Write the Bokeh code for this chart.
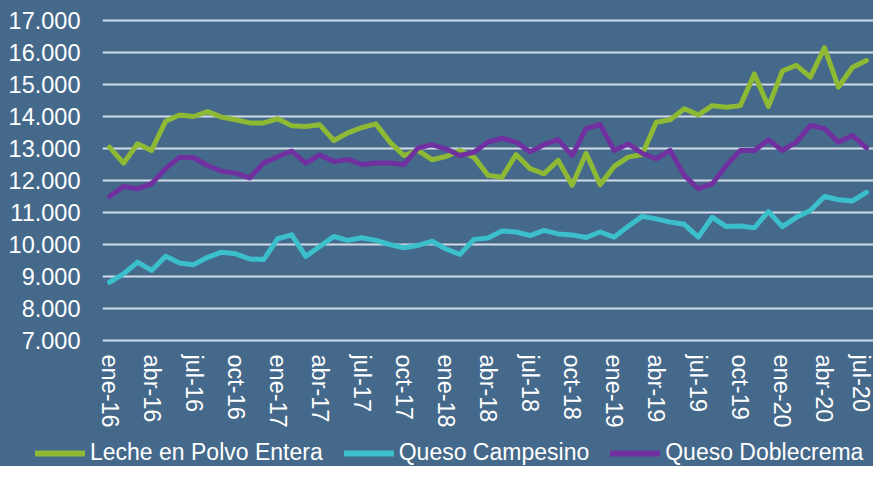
from bokeh.plotting import figure
from bokeh.models import Range1d, FixedTicker, Legend, LegendItem
from bokeh.layouts import column
from bokeh.embed import file_html
from bokeh.resources import INLINE

# ---- data ----
month_names = ["ene", "feb", "mar", "abr", "may", "jun", "jul", "ago", "sep", "oct", "nov", "dic"]
months = [f"{m}-{y}" for y in range(16, 21) for m in month_names][:55]  # ene-16 .. jul-20

leche_polvo = [13040, 12540, 13150, 12940, 13850, 14050, 14000, 14150, 13980, 13900,
               13800, 13800, 13930, 13710, 13690, 13740, 13250, 13490, 13650, 13770,
               13200, 12780, 12940, 12650, 12750, 12940, 12730, 12160, 12100, 12810,
               12370, 12210, 12630, 11850, 12850, 11870, 12440, 12730, 12810, 13820,
               13900, 14240, 14050, 14340, 14290, 14340, 15330, 14310, 15420, 15600,
               15230, 16150, 14920, 15540, 15750]

queso_campesino = [8820, 9080, 9450, 9190, 9630, 9420, 9370, 9600, 9760, 9710,
                   9550, 9530, 10180, 10300, 9630, 9940, 10250, 10130, 10210, 10130,
                   10000, 9900, 9970, 10100, 9860, 9690, 10160, 10200, 10420, 10390,
                   10280, 10440, 10330, 10300, 10220, 10390, 10230, 10570, 10880, 10800,
                   10700, 10630, 10230, 10850, 10560, 10580, 10520, 11030, 10560, 10850,
                   11060, 11500, 11400, 11360, 11630]

queso_doblecrema = [11500, 11810, 11740, 11900, 12370, 12730, 12710, 12470, 12290, 12230,
                    12080, 12550, 12740, 12920, 12540, 12800, 12590, 12660, 12500, 12550,
                    12550, 12500, 13010, 13120, 12990, 12780, 12880, 13200, 13320, 13200,
                    12900, 13120, 13280, 12780, 13620, 13750, 12940, 13150, 12850, 12680,
                    12940, 12160, 11740, 11900, 12470, 12940, 12940, 13270, 12940, 13200,
                    13720, 13620, 13200, 13410, 13020]

series_names = ["Leche en Polvo Entera", "Queso Campesino", "Queso Doblecrema"]
y_ticks = [7000, 8000, 9000, 10000, 11000, 12000, 13000, 14000, 15000, 16000, 17000]
y_tick_labels = ["7.000", "8.000", "9.000", "10.000", "11.000", "12.000",
                 "13.000", "14.000", "15.000", "16.000", "17.000"]

# ---- style ----
BG = "#45698b"
GRID = "#d3dbe7"
FONT = "Liberation Sans"
colors = ["#8db935", "#3bbfca", "#7030a0"]

x = list(range(len(months)))

p = figure(width=873, height=432, output_backend="svg", toolbar_location=None,
           x_range=Range1d(-0.5, len(months) - 0.5),
           y_range=Range1d(6937.5, 17062.5),
           min_border_left=102, min_border_right=0, min_border_top=18, min_border_bottom=90)
p.background_fill_color = BG
p.border_fill_color = BG
p.outline_line_color = None
p.frame_align = False
p.styles = {"background-color": BG}

for vals, col in zip([leche_polvo, queso_campesino, queso_doblecrema], colors):
    p.line(x, vals, line_color=col, line_width=5, line_join="round", line_cap="round")

# axes
p.yaxis.ticker = FixedTicker(ticks=y_ticks)
p.yaxis.major_label_overrides = {t: l for t, l in zip(y_ticks, y_tick_labels)}
p.yaxis.axis_line_color = None
p.yaxis.major_tick_line_color = None
p.yaxis.minor_tick_line_color = None
p.yaxis.major_tick_out = 0
p.yaxis.major_tick_in = 0
p.yaxis.minor_tick_out = 0
p.yaxis.major_label_standoff = 22
p.yaxis.major_label_text_font = FONT
p.yaxis.major_label_text_font_size = "23.5px"
p.yaxis.major_label_text_color = "white"

xt = [i for i in x if i % 3 == 0]
p.xaxis.ticker = FixedTicker(ticks=xt)
p.xaxis.major_label_overrides = {i: months[i] for i in xt}
p.xaxis.major_label_orientation = "vertical"
p.xaxis.axis_line_color = None
p.xaxis.major_tick_line_color = None
p.xaxis.minor_tick_line_color = None
p.xaxis.major_tick_out = 0
p.xaxis.major_tick_in = 0
p.xaxis.minor_tick_out = 0
p.xaxis.major_label_standoff = 12
p.xaxis.major_label_text_font = FONT
p.xaxis.major_label_text_font_size = "23.5px"
p.xaxis.major_label_text_color = "white"

p.xgrid.grid_line_color = None
p.ygrid.ticker = FixedTicker(ticks=y_ticks)
p.ygrid.grid_line_color = GRID
p.ygrid.grid_line_width = 2

# ---- legend strip (separate figure below the chart) ----
lg = figure(width=873, height=34, output_backend="svg", toolbar_location=None,
            x_axis_type=None, y_axis_type=None,
            x_range=Range1d(0, 1), y_range=Range1d(0, 1),
            min_border_left=0, min_border_right=0, min_border_top=0, min_border_bottom=0)
lg.background_fill_color = BG
lg.border_fill_color = BG
lg.outline_line_color = None
lg.grid.visible = False
lg.frame_align = False
lg.styles = {"background-color": BG}

items = []
for name, col in zip(series_names, colors):
    # placeholder renderer outside the visible range, only used for the legend swatch
    r = lg.line([5, 6], [5, 5], line_color=col, line_width=6, line_cap="round")
    items.append(LegendItem(label=name, renderers=[r]))

legend = Legend(items=items, orientation="horizontal", location=(35, 0))
legend.background_fill_alpha = 0
legend.border_line_color = None
legend.padding = 0
legend.margin = 0
legend.spacing = 21
legend.glyph_width = 50
legend.label_standoff = 5
legend.label_text_font = FONT
legend.label_text_font_size = "23px"
legend.label_text_color = "white"
lg.add_layout(legend, "center")

layout = column(p, lg, spacing=0)
layout.styles = {"background-color": BG}
open("out.html", "w").write(file_html(layout, INLINE))
